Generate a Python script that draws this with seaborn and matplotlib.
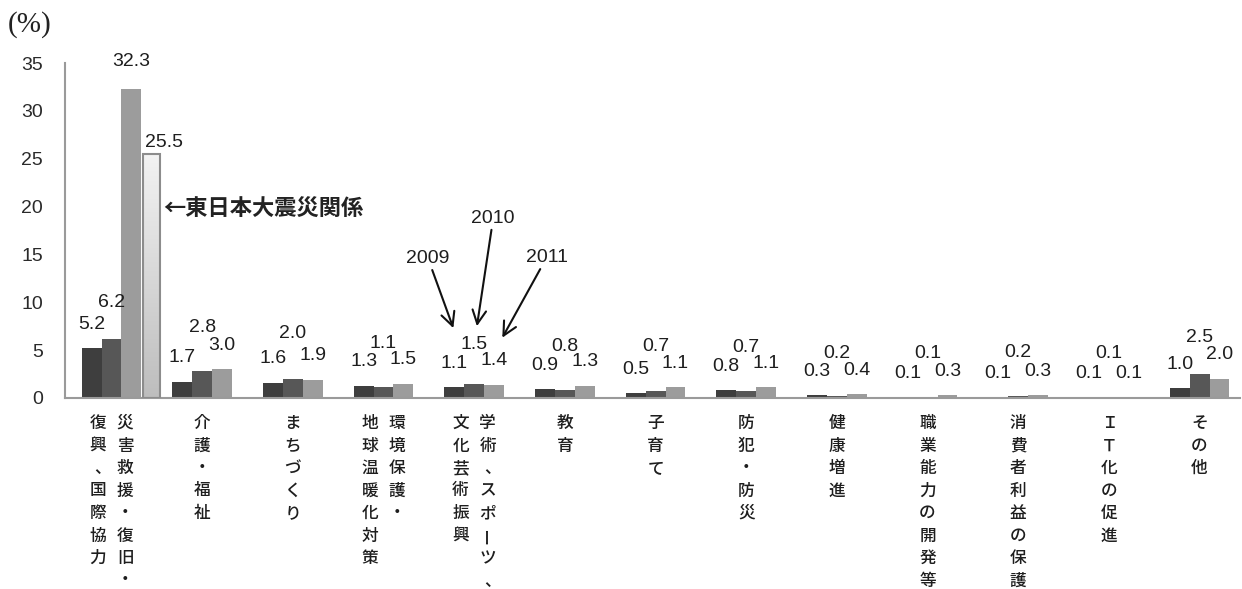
import numpy as np
import pandas as pd
import matplotlib
matplotlib.use('Agg')
import matplotlib.pyplot as plt
import seaborn as sns
from matplotlib.colors import LinearSegmentedColormap

# データ
categories = ['災害救援・復旧・復興、国際協力', '介護・福祉', 'まちづくり',
              '環境保護・地球温暖化対策', '学術、スポーツ、文化芸術振興', '教育',
              '子育て', '防犯・防災', '健康増進', '職業能力の開発等',
              '消費者利益の保護', 'ＩＴ化の促進', 'その他']
# 縦書きラベル (右の列から)
label_columns = [['災害救援・復旧・', '復興、国際協力'], ['介護・福祉'], ['まちづくり'],
                 ['環境保護・', '地球温暖化対策'], ['学術、スポーツ、', '文化芸術振興'],
                 ['教育'], ['子育て'], ['防犯・防災'], ['健康増進'], ['職業能力の開発等'],
                 ['消費者利益の保護'], ['ＩＴ化の促進'], ['その他']]
years = ['2009', '2010', '2011']
v2009 = [5.2, 1.7, 1.6, 1.3, 1.1, 0.9, 0.5, 0.8, 0.3, 0.1, 0.1, 0.1, 1.0]
v2010 = [6.2, 2.8, 2.0, 1.1, 1.5, 0.8, 0.7, 0.7, 0.2, 0.1, 0.2, 0.1, 2.5]
v2011 = [32.3, 3.0, 1.9, 1.5, 1.4, 1.3, 1.1, 1.1, 0.4, 0.3, 0.3, 0.1, 2.0]
quake_label = '東日本大震災関係'
quake_value = 25.5

df = pd.DataFrame({
    'cat': categories * 3,
    'year': [y for y in years for _ in categories],
    'value': v2009 + v2010 + v2011,
})

sns.set_style('white')
plt.rcParams['font.family'] = ['Liberation Sans', 'Noto Sans CJK JP']

colors = ['#3e3e3e', '#575757', '#9c9c9c']
fig = plt.figure(figsize=(12.42, 5.89), dpi=100)
ax = fig.add_axes([65/1242, 191/589, 1175/1242, 335/589])

sns.barplot(data=df, x='cat', y='value', hue='year', order=categories,
            hue_order=years, palette=colors, width=0.66, gap=0,
            errorbar=None, legend=False, saturation=1, ax=ax,
            linewidth=0)

# 東日本大震災関係 の棒 (グラデーション)
qbar = ax.bar(0.44, quake_value, width=0.19, color='none',
              edgecolor='#8c8c8c', linewidth=1.5, zorder=3)[0]
grad = np.linspace(0, 1, 256).reshape(-1, 1)
cmap = LinearSegmentedColormap.from_list('g', ['#bdbdbd', '#f3f3f3'])
im = ax.imshow(grad, extent=[0.44 - 0.095, 0.44 + 0.095, 0, quake_value],
               origin='lower', aspect='auto', cmap=cmap, zorder=2)
im.set_clip_path(qbar)

ax.set_xlim(-0.513, 12.446)
ax.set_ylim(0, 35)
ax.set_yticks(range(0, 36, 5))
ax.set_xlabel('')
ax.set_ylabel('')
ax.set_xticks([])
ax.tick_params(axis='y', length=0, pad=16, labelsize=14, labelcolor='#2a2a2a')
for s in ['top', 'right']:
    ax.spines[s].set_visible(False)
for s in ['left', 'bottom']:
    ax.spines[s].set_color('#9a9a9a')
    ax.spines[s].set_linewidth(1.5)

# 数値ラベル
off = 0.22
mid_offset = [36, 44, 45, 44, 39, 44, 45, 44, 43, 44, 44, 44, 37]
for i in range(len(categories)):
    for j, vals in enumerate([v2009, v2010, v2011]):
        dy = mid_offset[i] if j == 1 else 24
        if i == 0 and j == 2:
            dy = 27
        ax.annotate(f'{vals[i]:.1f}', xy=(i + (j - 1) * off, vals[i]),
                    xytext=(0, dy), textcoords='offset pixels',
                    ha='center', va='center', fontsize=14, color='#1e1e1e')
ax.annotate(f'{quake_value:.1f}', xy=(0.44, quake_value), xytext=(13, 11),
            textcoords='offset pixels', ha='center', va='center',
            fontsize=14, color='#1e1e1e')
ax.annotate('←' + quake_label, xy=(0.57, 19.85), ha='left', va='center',
            fontsize=16, fontweight='bold', color='#222222',
            family=['Noto Sans CJK JP'])

# 年の矢印
arrow = dict(arrowstyle='->,head_length=0.7,head_width=0.35', color='#111111',
             lw=1.5, shrinkA=0, shrinkB=0)
ax.annotate('2009', xy=(3.77, 7.3), xytext=(3.49, 14.6), ha='center',
            va='center', fontsize=14, color='#1e1e1e', arrowprops=arrow)
ax.annotate('2010', xy=(4.03, 7.5), xytext=(4.21, 18.8), ha='center',
            va='center', fontsize=14, color='#1e1e1e', arrowprops=arrow)
ax.annotate('2011', xy=(4.31, 6.3), xytext=(4.80, 14.7), ha='center',
            va='center', fontsize=14, color='#1e1e1e', arrowprops=arrow)

# 縦書きのカテゴリラベル
for i, cols in enumerate(label_columns):
    shifts = [0] if len(cols) == 1 else [0.15, -0.15]
    for col, sh in zip(cols, shifts):
        for k, ch in enumerate(col):
            dx, rot = 0, 0
            if ch == '、':
                dx = 5
            if ch == 'ー':
                rot = 90
            ax.annotate(ch, xy=(i + sh, 0), xycoords=('data', 'axes fraction'),
                        xytext=(dx, -25 - 22.5 * k),
                        textcoords='offset pixels', ha='center', va='center',
                        fontsize=12, color='#1e1e1e', rotation=rot,
                        fontweight='medium',
                        family=['Noto Sans CJK JP'], annotation_clip=False)

fig.text(8/1242, 1 - 25/589, '(%)', ha='left', va='center', fontsize=21,
         family=['Liberation Serif'], color='#222222')

fig.savefig('out.png', dpi=100)
